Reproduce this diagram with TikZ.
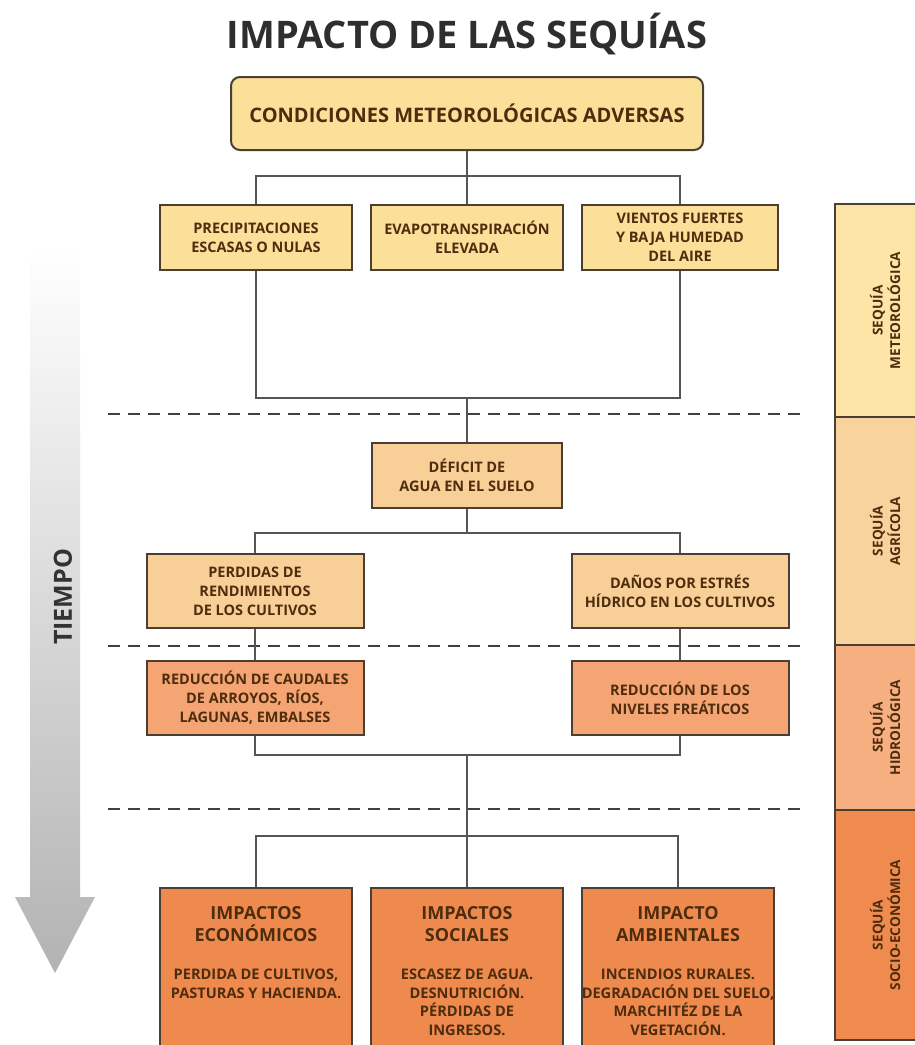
\documentclass[tikz,border=0pt]{standalone}
\usepackage{fontspec}
\setmainfont{Open Sans}
\definecolor{edge}{HTML}{4B3F33}
\definecolor{wire}{HTML}{555555}
\definecolor{ink}{HTML}{4E2C0E}
\definecolor{yel}{HTML}{FBE09A}
\definecolor{lor}{HTML}{F8CF97}
\definecolor{sal}{HTML}{F4A573}
\definecolor{org}{HTML}{EF8A4E}
\definecolor{bandA}{HTML}{FCE5A7}
\definecolor{bandB}{HTML}{F9D39D}
\definecolor{bandC}{HTML}{F6AF80}
\definecolor{bandD}{HTML}{F08B50}
\begin{document}
\begin{tikzpicture}[x=1pt, y=-1pt,
	box/.style={draw=edge, line width=2pt, text=ink, align=center, inner sep=2pt, minimum width=192pt, minimum height=65pt, font=\fontsize{14.5}{19}\selectfont\bfseries},
	wide/.style={box, minimum width=217pt, minimum height=74pt},
	imp/.style={box, fill=org, anchor=north, inner ysep=18pt, font=\fontsize{14.6}{18.5}\selectfont\bfseries},
	band/.style={draw=edge, line width=1.5pt, text=ink, rotate=90, align=center, minimum height=100pt, font=\fontsize{13.6}{17.5}\selectfont\bfseries},
	conn/.style={draw=wire, line width=2.2pt},
	cut/.style={draw=black!75, line width=2pt, dash pattern=on 12pt off 8pt}]
	\useasboundingbox (0,0) rectangle (915,1045);
	\node[text=black!82, font=\fontsize{38}{40}\selectfont\bfseries] (title) at (467,34) {IMPACTO DE LAS SEQUÍAS};
	\shade[top color=white, middle color=black!18, bottom color=black!30] (30,248) -- (80,248) -- (80,897) -- (95,897) -- (55,973) -- (15,897) -- (30,897) -- cycle;
	\node[rotate=90, text=black!80, font=\fontsize{25}{28}\selectfont\bfseries] (T) at (63,597) {TIEMPO};

	\draw[cut] (108,414) -- (806,414);
	\draw[cut] (108,646) -- (806,646);
	\draw[cut] (108,809) -- (806,809);

	\node[box, fill=yel, rounded corners=9pt, minimum width=472pt, minimum height=73pt, font=\fontsize{20}{24}\selectfont\bfseries] (M) at (467,113.5) {CONDICIONES METEOROLÓGICAS ADVERSAS};
		\node[box, fill=yel] (P1) at (256,237.5) {PRECIPITACIONES\\ESCASAS O NULAS};
		\node[box, fill=yel] (P2) at (467,237.5) {EVAPOTRANSPIRACIÓN\\ELEVADA};
		\node[box, fill=yel, minimum width=196pt] (P3) at (680,237.5) {VIENTOS FUERTES\\Y BAJA HUMEDAD\\DEL AIRE};
	\node[box, fill=lor, minimum width=190pt] (D) at (467,475.5) {DÉFICIT DE\\AGUA EN EL SUELO};
		\node[wide, fill=lor] (L1) at (255,591) {PERDIDAS DE\\RENDIMIENTOS\\DE LOS CULTIVOS};
		\node[wide, fill=lor] (R1) at (680,591) {DAÑOS POR ESTRÉS\\HÍDRICO EN LOS CULTIVOS};
		\node[wide, fill=sal] (L2) at (255,698) {REDUCCIÓN DE CAUDALES\\DE ARROYOS, RÍOS,\\LAGUNAS, EMBALSES};
		\node[wide, fill=sal] (R2) at (680,698) {REDUCCIÓN DE LOS\\NIVELES FREÁTICOS};
	\node[imp] (I1) at (256,887) {\parbox[t][150pt][t]{186pt}{\centering{\fontsize{18}{22}\selectfont IMPACTOS\\ECONÓMICOS\par}\vspace{20pt}PERDIDA DE CULTIVOS,\\PASTURAS Y HACIENDA.}};
	\node[imp] (I2) at (467,887) {\parbox[t][150pt][t]{186pt}{\centering{\fontsize{18}{22}\selectfont IMPACTOS\\SOCIALES\par}\vspace{20pt}ESCASEZ DE AGUA.\\DESNUTRICIÓN.\\PÉRDIDAS DE\\INGRESOS.}};
	\node[imp] (I3) at (678,887) {\parbox[t][150pt][t]{186pt}{\centering{\fontsize{18}{22}\selectfont IMPACTO\\AMBIENTALES\par}\vspace{20pt}INCENDIOS RURALES.\\\makebox[\linewidth]{DEGRADACIÓN DEL SUELO,}\\MARCHITÉZ DE LA\\VEGETACIÓN.}};

	\coordinate (J1) at (467,176);
	\coordinate (J2) at (467,398);
	\coordinate (J3) at (467,533);
	\coordinate (J4) at (467,755);
	\coordinate (J5) at (467,836);
	\draw[conn] (M) -- (J1);
	\draw[conn] (J1) -| (P1);
	\draw[conn] (J1) -- (P2);
	\draw[conn] (J1) -| (P3);
	\draw[conn] (P1) |- (J2) -| (P3);
	\draw[conn] (J2) -- (D);
	\draw[conn] (D) -- (J3);
	\draw[conn] (J3) -| (L1);
	\draw[conn] (J3) -| (R1);
	\draw[conn] (L1) -- (L2);
	\draw[conn] (R1) -- (R2);
	\draw[conn] (L2) |- (J4) -| (R2);
	\draw[conn] (J4) -- (J5);
	\draw[conn] (J5) -| (I1);
	\draw[conn] (J5) -- (I2);
	\draw[conn] (J5) -| (I3);

	\node[band, fill=bandA, minimum width=213pt] (S1) at (885,310.5) {SEQUÍA\\METEOROLÓGICA};
	\node[band, fill=bandB, minimum width=228pt] (S2) at (885,531) {SEQUÍA\\AGRÍCOLA};
	\node[band, fill=bandC, minimum width=165pt] (S3) at (885,727.5) {SEQUÍA\\HIDROLÓGICA};
	\node[band, fill=bandD, minimum width=230pt] (S4) at (885,925) {SEQUÍA\\SOCIO-ECONÓMICA};
\end{tikzpicture}
\end{document}
